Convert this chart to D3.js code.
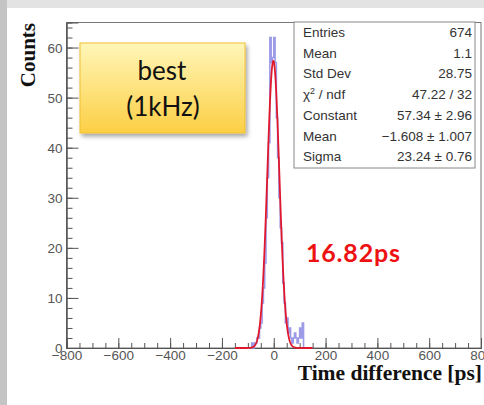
<!DOCTYPE html>
<html>
<head>
<meta charset="utf-8">
<script src="https://cdn.jsdelivr.net/npm/d3@7"></script>
<style>
	body { margin: 0; background: #fff; }
	svg { display: block; }
</style>
</head>
<body>
<div id="chart"></div>
<script>
// histogram of time differences, 5 ps bins starting at -150 ps
var binStart = -150, binWidth = 5;
var counts = [
	0, 0, 0, 0, 0, 0, 0, 0, 0, 0,
	0, 0, 0, 1, 0, 1, 1, 2, 2, 4,
	5, 9, 12, 17, 26, 34, 41, 62, 57, 58,
	62, 57, 46, 38, 30, 24, 21, 13, 9, 5,
	6, 3, 4, 2, 1, 2, 3, 2, 1, 2,
	4, 2, 5, 0, 0, 0, 0, 0, 0, 0
];

// gaussian fit (from the stats box) and its range
var fitConstant = 57.34, fitMean = -1.608, fitSigma = 23.24;
var fitRange = [-150, 150];

var xTicks = [-800, -600, -400, -200, 0, 200, 400, 600, 800];
var yTicks = [0, 10, 20, 30, 40, 50, 60];

var statNames = ["Entries", "Mean", "Std Dev", "χ2ndf", "Constant", "Mean", "Sigma"];
var statValues = ["674", "1.1", "28.75", "47.22 / 32", "57.34 ± 2.96", "−1.608 ± 1.007", "23.24 ± 0.76"];

var W = 484, H = 405;
var svg = d3.select('#chart').append('svg')
	.attr('width', W).attr('height', H);

var defs = svg.append('defs');
var yg = defs.append('linearGradient').attr('id', 'yellow')
	.attr('x1', 0).attr('y1', 0).attr('x2', 0).attr('y2', 1);
yg.append('stop').attr('offset', '0%').attr('stop-color', '#fff6b8');
yg.append('stop').attr('offset', '100%').attr('stop-color', '#fccf45');
var sh = defs.append('filter').attr('id', 'shadow')
	.attr('x', '-10%').attr('y', '-10%').attr('width', '130%').attr('height', '140%');
sh.append('feDropShadow').attr('dx', 2).attr('dy', 3).attr('stdDeviation', 2)
	.attr('flood-color', '#000').attr('flood-opacity', 0.35);

// slide border
svg.append('rect').attr('x', 0).attr('y', 0).attr('width', W).attr('height', 8).attr('fill', '#e3e3e3');
svg.append('rect').attr('x', 0).attr('y', 0).attr('width', 7).attr('height', H).attr('fill', '#c4c4c4');

var x = d3.scaleLinear().domain([-800, 800]).range([66.5, 481]);
var y = d3.scaleLinear().domain([0, 65]).range([348, 22.5]);

var fmt = function(d){ return d < 0 ? "−" + Math.abs(d) : d; };

// frame
svg.append('rect')
	.attr('x', x.range()[0]).attr('y', y.range()[1])
	.attr('width', x.range()[1] - x.range()[0])
	.attr('height', y.range()[0] - y.range()[1])
	.attr('fill', 'none').attr('stroke', '#777').attr('stroke-width', 1);

// minor ticks
var gxMinor = svg.append('g').attr('transform', 'translate(0,' + y.range()[0] + ')')
	.call(d3.axisBottom(x).tickValues(d3.range(-800, 801, 50)).tickSize(-5).tickFormat(''));
var gyMinor = svg.append('g').attr('transform', 'translate(' + x.range()[0] + ',0)')
	.call(d3.axisLeft(y).tickValues(d3.range(0, 65, 2)).tickSize(-6).tickFormat(''));

// major ticks + labels
var gx = svg.append('g').attr('transform', 'translate(0,' + y.range()[0] + ')')
	.call(d3.axisBottom(x).tickValues(xTicks).tickSize(-10).tickPadding(2).tickFormat(fmt));
var gy = svg.append('g').attr('transform', 'translate(' + x.range()[0] + ',0)')
	.call(d3.axisLeft(y).tickValues(yTicks).tickSize(-12).tickPadding(4).tickFormat(fmt));

[gxMinor, gyMinor, gx, gy].forEach(function(g){
	g.select('.domain').attr('stroke', '#555');
	g.selectAll('.tick line').attr('stroke', '#555');
	g.selectAll('.tick text')
		.attr('fill', '#555')
		.style('font-family', 'Liberation Sans, Arial, sans-serif')
		.style('font-size', '13.5px');
});
gy.selectAll('.tick text').attr('dy', '0.36em');

// histogram outline
var pts = [];
counts.forEach(function(c, i){
	var lo = binStart + i * binWidth;
	pts.push([lo, c], [lo + binWidth, c]);
});
svg.append('path')
	.datum(pts)
	.attr('fill', 'none')
	.attr('stroke', '#9d9ae8')
	.attr('stroke-width', 1.6)
	.attr('d', d3.line().x(function(d){ return x(d[0]); }).y(function(d){ return y(d[1]); }));

// gaussian fit
var fitPts = d3.range(fitRange[0], fitRange[1] + 0.5, 1).map(function(t){
	var z = (t - fitMean) / fitSigma;
	return [t, fitConstant * Math.exp(-0.5 * z * z)];
});
svg.append('path')
	.datum(fitPts)
	.attr('fill', 'none')
	.attr('stroke', '#e0182e')
	.attr('stroke-width', 1.8)
	.attr('d', d3.line().x(function(d){ return x(d[0]); }).y(function(d){ return y(d[1]); }));

// stats box
var sb = svg.append('g');
sb.append('rect').attr('x', 294).attr('y', 22).attr('width', 181).attr('height', 146)
	.attr('fill', '#fff').attr('stroke', '#888').attr('stroke-width', 1);
sb.selectAll('text.name').data(statNames).enter().append('text')
	.attr('class', 'name')
	.attr('x', 303)
	.attr('y', function(d, i){ return 37 + i * 20.7; })
	.attr('fill', '#333')
	.style('font-family', 'Liberation Sans, Arial, sans-serif')
	.style('font-size', '13.5px')
	.each(function(d){
		var t = d3.select(this);
		if (d == "χ2ndf") {
			t.append('tspan').text('χ');
			t.append('tspan').attr('dy', -5).style('font-size', '9px').text('2');
			t.append('tspan').attr('dy', 5).text(' / ndf');
		} else t.text(d);
	});
sb.selectAll('text.val').data(statValues).enter().append('text')
	.attr('class', 'val')
	.attr('x', 472)
	.attr('y', function(d, i){ return 37 + i * 20.7; })
	.attr('text-anchor', 'end')
	.attr('fill', '#333')
	.style('font-family', 'Liberation Sans, Arial, sans-serif')
	.style('font-size', '13.5px')
	.text(function(d){ return d; });

// axis titles
svg.append('text')
	.attr('transform', 'translate(35,23) rotate(-90)')
	.attr('text-anchor', 'end')
	.style('font-family', 'Liberation Serif, Times New Roman, serif')
	.style('font-weight', 'bold')
	.style('font-size', '21px')
	.attr('fill', '#111')
	.text('Counts');
svg.append('text')
	.attr('x', 482).attr('y', 380)
	.attr('text-anchor', 'end')
	.style('font-family', 'Liberation Serif, Times New Roman, serif')
	.style('font-weight', 'bold')
	.style('font-size', '21.5px')
	.attr('fill', '#111')
	.text('Time difference [ps]');

// yellow label box
svg.append('rect').attr('x', 80).attr('y', 43).attr('width', 165).attr('height', 90)
	.attr('fill', 'url(#yellow)').attr('stroke', '#f0c030').attr('stroke-width', 1)
	.attr('filter', 'url(#shadow)');
svg.append('text').attr('x', 162).attr('y', 80).attr('text-anchor', 'middle')
	.style('font-family', 'Lato, sans-serif').style('font-size', '26px').attr('fill', '#111')
	.text('best');
svg.append('text').attr('x', 163).attr('y', 116).attr('text-anchor', 'middle')
	.style('font-family', 'Lato, sans-serif').style('font-size', '26px').attr('fill', '#111')
	.text('(1kHz)');

// resolution label
svg.append('text').attr('x', 306).attr('y', 262)
	.style('font-family', 'Lato, sans-serif').style('font-size', '25px')
	.style('font-weight', 'bold').style('letter-spacing', '0.8px').attr('fill', '#ee1111')
	.text('16.82ps');
</script>
</body>
</html>
